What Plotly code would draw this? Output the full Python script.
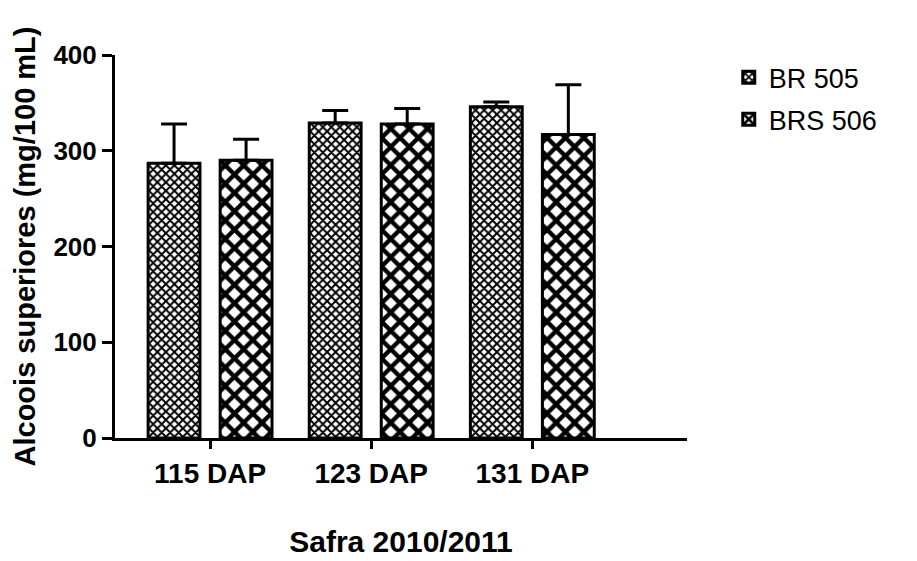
import plotly.graph_objects as go

categories = ["115 DAP", "123 DAP", "131 DAP"]
br505 = [287, 329, 346]
br505_err = [41, 13, 5]
brs506 = [290, 328, 317]
brs506_err = [22, 16, 52]
series_names = ["BR 505", "BRS 506"]
y_ticks = [0, 100, 200, 300, 400]

FONT = "Arial, Liberation Sans, sans-serif"

fig = go.Figure()
specs = [
    (series_names[0], br505, br505_err, 6),
    (series_names[1], brs506, brs506_err, 13),
]
for i, (name, vals, errs, psize) in enumerate(specs):
    fig.add_trace(go.Bar(
        name=name,
        x=categories,
        y=vals,
        legendgroup=f"g{i}",
        marker=dict(
            color="white",
            line=dict(color="black", width=3),
            pattern=dict(shape="x", size=psize, solidity=0.55,
                         fgcolor="black", bgcolor="white", fillmode="replace"),
        ),
        error_y=dict(type="data", array=errs, arrayminus=[0] * len(errs),
                     symmetric=False, color="black", thickness=3, width=13),
    ))

fig.update_layout(
    width=917, height=561,
    paper_bgcolor="white", plot_bgcolor="white",
    margin=dict(l=107, r=238, t=47, b=131, autoexpand=False),
    barmode="group", bargap=0.106, bargroupgap=0.28,
    font=dict(family=FONT, color="black"),
    showlegend=True,
    legend=dict(x=1.073, y=1.005, xanchor="left", yanchor="top",
                font=dict(size=27, family=FONT), tracegroupgap=4,
                traceorder="grouped", bgcolor="rgba(0,0,0,0)"),
)
fig.update_xaxes(
    range=[-0.59, 2.96],
    showline=True, linecolor="black", linewidth=3,
    ticks="outside", ticklen=8, tickwidth=3, tickcolor="black",
    tickfont=dict(size=28, family=FONT, weight="bold"),
    showgrid=False, zeroline=False,
    title=dict(text="<b>Safra 2010/2011</b>", font=dict(size=30), standoff=44),
)
fig.update_yaxes(
    range=[0, 400], tickvals=y_ticks,
    showline=True, linecolor="black", linewidth=3,
    ticks="outside", ticklen=10, tickwidth=3, tickcolor="black",
    tickfont=dict(size=26, family=FONT, weight="bold"),
    showgrid=False, zeroline=False,
    title=dict(text="<b>Alcoois superiores (mg/100 mL)</b>", font=dict(size=29), standoff=10),
)

fig.write_html("out.html")
